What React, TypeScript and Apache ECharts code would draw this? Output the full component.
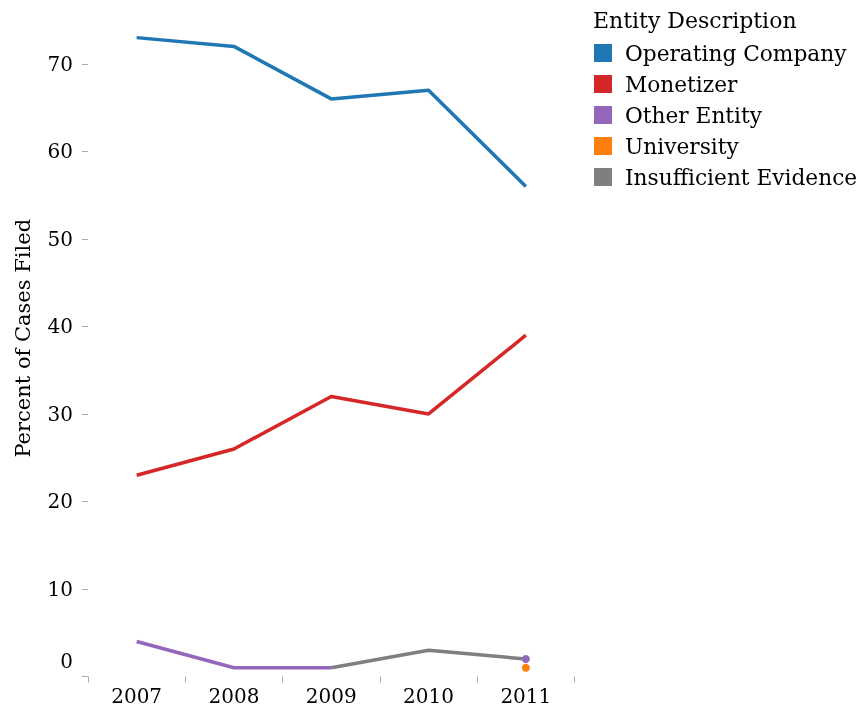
import React, { useEffect, useRef } from "react";
import * as echarts from "echarts";

const years = ["2007", "2008", "2009", "2010", "2011"];
const yTicks = [0, 10, 20, 30, 40, 50, 60, 70];
const operatingCompany = [73, 72, 66, 67, 56];
const monetizer = [23, 26, 32, 30, 39];
const otherEntity: (number | null)[] = [4, 1, 1, null, 2];
const university: (number | null)[] = [null, null, null, null, 1];
const insufficientEvidence: (number | null)[] = [null, null, 1, 3, 2];

const seriesNames = [
  "Operating Company",
  "Monetizer",
  "Other Entity",
  "University",
  "Insufficient Evidence",
];
const colors: Record<string, string> = {
  "Operating Company": "#1f77b4",
  Monetizer: "#d62728",
  "Other Entity": "#9467bd",
  University: "#ff7f0e",
  "Insufficient Evidence": "#7f7f7f",
};

const FONT = "DejaVu Serif";

// points with no neighbours are drawn as dots, like the reference
function withIsolatedDots(arr: (number | null)[]) {
  return arr.map((v, i) => {
    if (v == null) return null;
    const prev = i > 0 ? arr[i - 1] : null;
    const next = i < arr.length - 1 ? arr[i + 1] : null;
    if (prev == null && next == null) {
      return { value: v, symbol: "circle", symbolSize: 8 };
    }
    return v;
  });
}

export default function App() {
  const ref = useRef<HTMLDivElement>(null);
  useEffect(() => {
    if (!ref.current) return;
    const chart = echarts.init(ref.current, undefined, { renderer: "svg" });
    const mk = (name: string, data: (number | null)[], z: number) => ({
      name,
      type: "line",
      data: withIsolatedDots(data),
      symbol: "none",
      connectNulls: false,
      z,
      itemStyle: { color: colors[name] },
      lineStyle: { color: colors[name], width: 3.5 },
      emphasis: { disabled: true },
    });
    chart.setOption({
      animation: false,
      textStyle: { fontFamily: FONT },
      title: {
        text: "Entity Description",
        left: 593,
        top: 9,
        padding: 0,
        textStyle: { fontFamily: FONT, fontSize: 22, fontWeight: "normal", color: "#000" },
      },
      legend: {
        data: seriesNames,
        orient: "vertical",
        left: 594,
        top: 42,
        padding: 0,
        itemWidth: 18,
        itemHeight: 18,
        itemGap: 9,
        icon: "rect",
        selectedMode: false,
        textStyle: {
          fontFamily: FONT,
          fontSize: 21.7,
          color: "#000",
          padding: [0, 0, 0, 8],
        },
      },
      grid: { left: 88, right: 285.5, top: 0, bottom: 31.5 },
      xAxis: {
        type: "category",
        data: years,
        boundaryGap: true,
        axisLine: { show: false },
        axisTick: { show: true, length: 6, lineStyle: { color: "#aaa" } },
        axisLabel: { fontFamily: FONT, fontSize: 20, color: "#000", margin: 9 },
      },
      yAxis: {
        type: "value",
        min: 0,
        max: 77.3,
        name: "Percent of Cases Filed",
        nameLocation: "middle",
        nameGap: 55,
        nameTextStyle: { fontFamily: FONT, fontSize: 21, color: "#000" },
        splitLine: { show: false },
        axisLine: { show: false },
        axisTick: { show: true, length: 6, lineStyle: { color: "#aaa" }, customValues: yTicks },
        axisLabel: {
          fontFamily: FONT,
          fontSize: 20,
          color: "#000",
          margin: 15,
          customValues: yTicks,
          verticalAlignMinLabel: "bottom",
          formatter: (v: number) => (v === 0 ? "{z|0}" : String(v)),
          rich: { z: { fontFamily: FONT, fontSize: 20, color: "#000", padding: [0, 0, 6, 0] } },
        },
      },
      series: [
        mk("Insufficient Evidence", insufficientEvidence, 2),
        mk("University", university, 3),
        mk("Other Entity", otherEntity, 4),
        mk("Monetizer", monetizer, 5),
        mk("Operating Company", operatingCompany, 6),
      ],
    });
    return () => chart.dispose();
  }, []);
  return (
    <div
      ref={ref}
      style={{ position: "fixed", left: 0, top: 0, width: 860, height: 708 }}
    />
  );
}
